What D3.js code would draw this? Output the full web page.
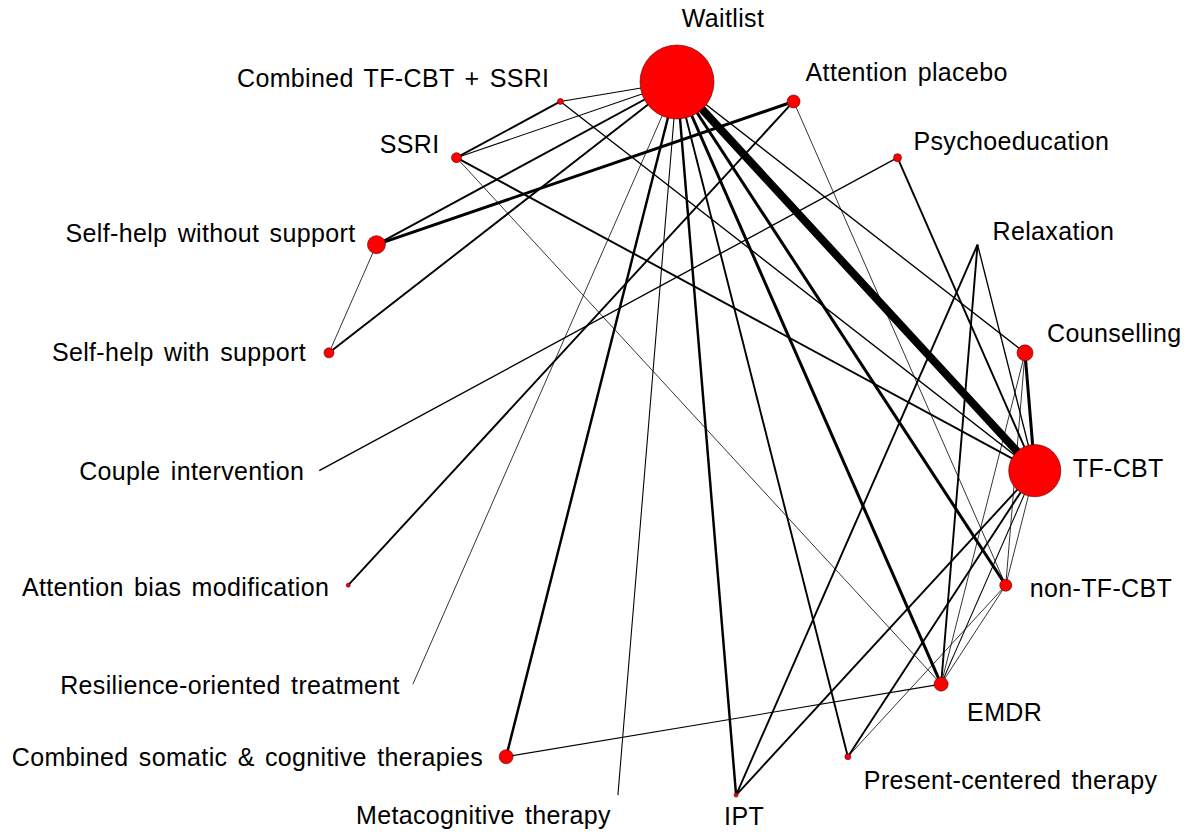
<!DOCTYPE html>
<html><head><meta charset="utf-8">
<script src="https://cdn.jsdelivr.net/npm/d3@7"></script>
<style>
html,body{margin:0;padding:0;background:#fff;}
text{font-family:"Liberation Sans",Arial,sans-serif;font-size:25px;letter-spacing:0.35px;word-spacing:3px;fill:#000;}
</style></head>
<body>
<svg id="chart" width="1192" height="836"></svg>
<script>
// ---- data ----
const treatments = ["Waitlist","Attention placebo","Psychoeducation","Relaxation","Counselling","TF-CBT","non-TF-CBT","EMDR","Present-centered therapy","IPT","Metacognitive therapy","Combined somatic & cognitive therapies","Resilience-oriented treatment","Attention bias modification","Couple intervention","Self-help with support","Self-help without support","SSRI","Combined TF-CBT + SSRI"];
// relative node size (participants)
const nodeSize = [1370,42,16,0,64,680,36,49,9,4,0,49,0,4,0,25,81,25,9];
// comparisons: from, to, number of studies
const compFrom = ["Waitlist","Waitlist","Waitlist","Waitlist","Waitlist","Waitlist","Waitlist","Waitlist","Waitlist","Waitlist","Waitlist","Waitlist","Waitlist",
 "Self-help without support","Self-help without support","Attention placebo","Attention placebo","Psychoeducation","Psychoeducation","Relaxation","Relaxation","Relaxation",
 "SSRI","SSRI","SSRI","Combined TF-CBT + SSRI","Counselling","Counselling","Counselling","TF-CBT","TF-CBT","TF-CBT","TF-CBT","Present-centered therapy","EMDR","EMDR"];
const compTo = ["TF-CBT","Self-help without support","Self-help with support","Combined TF-CBT + SSRI","SSRI","Resilience-oriented treatment","Combined somatic & cognitive therapies","Metacognitive therapy","IPT","Present-centered therapy","EMDR","non-TF-CBT","Counselling",
 "Attention placebo","Self-help with support","Attention bias modification","non-TF-CBT","Couple intervention","TF-CBT","IPT","EMDR","TF-CBT",
 "TF-CBT","EMDR","Combined TF-CBT + SSRI","TF-CBT","TF-CBT","EMDR","non-TF-CBT","non-TF-CBT","EMDR","Present-centered therapy","IPT","non-TF-CBT","non-TF-CBT","Combined somatic & cognitive therapies"];
const compStudies = [27,5,5,2,2,1,7,2,7,5,9,9,3,
 9,1,5,1,3,5,5,5,3,
 5,1,5,3,9,1,1,1,2,5,5,1,1,2];
// ---- layout ----
const labelPos = { // [dx, dy, anchor]
 "Waitlist":[46,-55,"middle"],"Attention placebo":[12,-20,"start"],"Psychoeducation":[16,-8,"start"],
 "Relaxation":[15,-5,"start"],"Counselling":[22,-11,"start"],"TF-CBT":[38,6,"start"],"non-TF-CBT":[24,12,"start"],
 "EMDR":[26,37,"start"],"Present-centered therapy":[16,32,"start"],"IPT":[8,30,"middle"],"Metacognitive therapy":[-7,29,"end"],
 "Combined somatic & cognitive therapies":[-23,9,"end"],"Resilience-oriented treatment":[-13,10,"end"],
 "Attention bias modification":[-19,11,"end"],"Couple intervention":[-15,9,"end"],"Self-help with support":[-23,8,"end"],
 "Self-help without support":[-21,-3,"end"],"SSRI":[-17,-5,"end"],"Combined TF-CBT + SSRI":[-11,-14,"end"]};
const cx=677, cy=441, R=359;
const svg=d3.select("#chart");
const ang=d3.scaleLinear().domain([0,treatments.length]).range([0,2*Math.PI]);
const rScale=d3.scaleSqrt().domain([0,d3.max(nodeSize)]).range([0,37]);
const wScale=d3.scaleLinear().domain([1,27]).range([0.8,8]);
const nodes=treatments.map((t,i)=>({name:t,size:nodeSize[i],x:cx+R*Math.sin(ang(i)),y:cy-R*Math.cos(ang(i))}));
const byName=Object.fromEntries(nodes.map(n=>[n.name,n]));
const edges=compFrom.map((f,i)=>({s:byName[f],t:byName[compTo[i]],k:compStudies[i]})).filter(e=>e.k>0);
svg.append("g").selectAll("line").data(edges).join("line")
 .attr("x1",d=>d.s.x).attr("y1",d=>d.s.y).attr("x2",d=>d.t.x).attr("y2",d=>d.t.y)
 .attr("stroke","#000").attr("stroke-width",d=>wScale(d.k));
svg.append("g").selectAll("circle").data(nodes.filter(n=>n.size>0)).join("circle")
 .attr("cx",d=>d.x).attr("cy",d=>d.y).attr("r",d=>Math.max(rScale(d.size),1.5))
 .attr("fill","#ff0000").attr("stroke","#500").attr("stroke-width",0.6);
svg.append("g").selectAll("text").data(nodes).join("text")
 .attr("x",d=>d.x+labelPos[d.name][0]).attr("y",d=>d.y+labelPos[d.name][1])
 .attr("text-anchor",d=>labelPos[d.name][2]).text(d=>d.name);
</script>
</body></html>
